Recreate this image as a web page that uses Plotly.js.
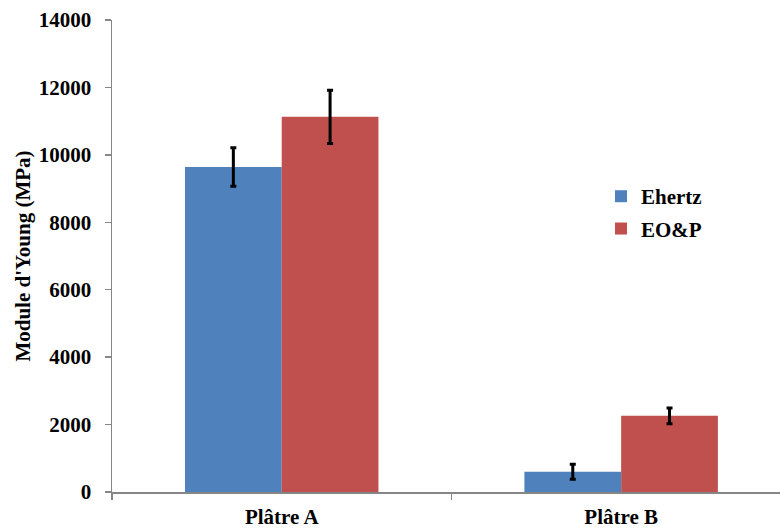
<!DOCTYPE html>
<html>
<head>
<meta charset="utf-8">
<script src="https://cdn.plot.ly/plotly-3.0.1.min.js"></script>
<style>html,body{margin:0;padding:0;background:#fff;}#chart{width:780px;height:529px;}</style>
</head>
<body>
<div id="chart"></div>
<script>
const categories = ["Plâtre A", "Plâtre B"];
const seriesNames = ["Ehertz", "EO&P"];
const ehertzValues = [9640, 600];
const ehertzErrors = [570, 225];
const eopValues = [11130, 2260];
const eopErrors = [790, 235];
const yTickValues = [0, 2000, 4000, 6000, 8000, 10000, 12000, 14000];

const fontFamily = "Liberation Serif";
const errStyle = {type: "data", visible: true, color: "#000000", thickness: 3, width: 3};

const traces = [
  {type: "bar", name: seriesNames[0], x: categories, y: ehertzValues,
   marker: {color: "#4F81BD"}, legendgroup: "a",
   error_y: Object.assign({array: ehertzErrors}, errStyle)},
  {type: "bar", name: seriesNames[1], x: categories, y: eopValues,
   marker: {color: "#C0504D"}, legendgroup: "b",
   error_y: Object.assign({array: eopErrors}, errStyle)}
];

const layout = {
  width: 780, height: 529,
  margin: {l: 112, r: 0, t: 20, b: 37, pad: 0},
  paper_bgcolor: "#ffffff", plot_bgcolor: "#ffffff",
  font: {family: fontFamily, color: "#000000", size: 20, weight: "bold"},
  barmode: "group", bargap: 0.43, bargroupgap: 0,
  showlegend: true,
  legend: {x: 0.732, y: 0.592, xanchor: "left", yanchor: "middle",
           font: {family: fontFamily, size: 21, weight: "bold", color: "#000"},
           tracegroupgap: 2, bgcolor: "rgba(0,0,0,0)"},
  xaxis: {type: "category", range: [-0.5, 1.468], showline: true, linecolor: "#868686", linewidth: 1.5,
          ticks: "outside", tickson: "boundaries", ticklen: 6, tickcolor: "#868686", tickwidth: 1.5,
          ticklabelstandoff: 5,
          showgrid: false, zeroline: false,
          tickfont: {family: fontFamily, size: 21, weight: "bold", color: "#000"}},
  yaxis: {range: [0, 14000], tickvals: yTickValues, ticktext: yTickValues.map(String),
          showline: true, linecolor: "#868686", linewidth: 1.5,
          ticks: "outside", ticklen: 6, tickcolor: "#868686", tickwidth: 1.5,
          ticklabelstandoff: 9,
          showgrid: false, zeroline: false,
          tickfont: {family: fontFamily, size: 21, weight: "bold", color: "#000"},
          title: {text: "Module d'Young (MPa)", standoff: 2,
                  font: {family: fontFamily, size: 21, weight: "bold", color: "#000"}}}
};

Plotly.newPlot("chart", traces, layout, {displayModeBar: false, staticPlot: true});
</script>
</body>
</html>
